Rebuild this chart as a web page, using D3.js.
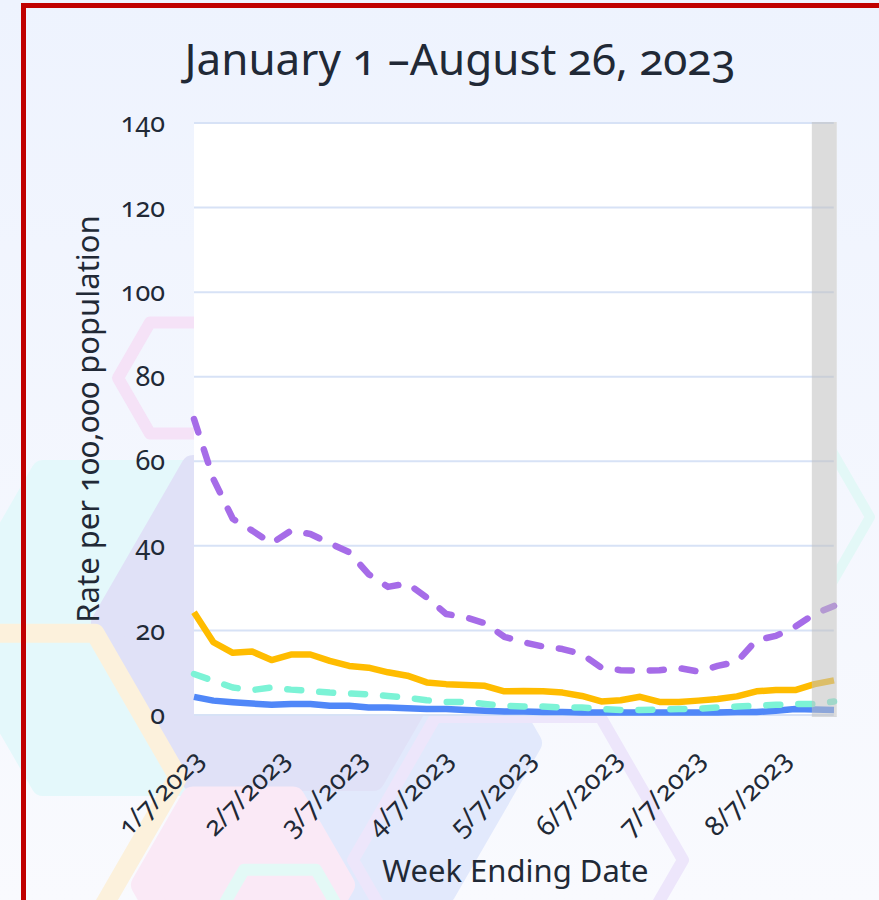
<!DOCTYPE html>
<html>
<head>
    <title>Rate per 100,000 population, January 1 - August 26, 2023</title>
    <style>
        body {
            margin: 0;
            padding: 0;
            background: #eef3fe;
            font-family: "Noto Sans", "Open Sans", sans-serif;
        }
        #chart svg {
            display: block;
        }
        svg text {
            font-variant-numeric: oldstyle-nums;
            font-feature-settings: "onum" 1;
        }
    </style>
</head>
<body>
    <div id="chart"></div>

    <script src="https://d3js.org/d3.v7.min.js"></script>
    <script>
        // week ending dates, 1/7/2023 .. 8/26/2023
        const weeks = [
            '1/7/2023', '1/14/2023', '1/21/2023', '1/28/2023', '2/4/2023', '2/11/2023', '2/18/2023',
            '2/25/2023', '3/4/2023', '3/11/2023', '3/18/2023', '3/25/2023', '4/1/2023', '4/8/2023',
            '4/15/2023', '4/22/2023', '4/29/2023', '5/6/2023', '5/13/2023', '5/20/2023', '5/27/2023',
            '6/3/2023', '6/10/2023', '6/17/2023', '6/24/2023', '7/1/2023', '7/8/2023', '7/15/2023',
            '7/22/2023', '7/29/2023', '8/5/2023', '8/12/2023', '8/19/2023', '8/26/2023'
        ];

        // rates per 100,000
        const purpleRates = [70.0, 55.8, 46.4, 43.6, 40.6, 43.6, 42.8, 40.6, 38.5, 33.3, 30.3, 31.1,
            27.8, 23.9, 23.1, 21.7, 18.5, 17.2, 16.2, 15.6, 14.4, 11.2, 10.6, 10.5, 10.6, 11.1, 10.3,
            11.6, 12.6, 17.7, 18.7, 20.9, 23.9, 25.8];
        const orangeRates = [24.3, 17.2, 14.7, 15.0, 13.0, 14.3, 14.3, 12.8, 11.6, 11.2, 10.1, 9.3,
            7.7, 7.3, 7.1, 6.9, 5.6, 5.7, 5.6, 5.3, 4.5, 3.2, 3.5, 4.3, 3.1, 3.1, 3.4, 3.8, 4.4, 5.6,
            5.9, 5.9, 7.3, 8.2];
        const tealRates = [9.7, 8.1, 6.5, 5.9, 6.5, 6.0, 5.7, 5.3, 5.1, 4.9, 4.5, 4.1, 3.5, 3.1, 3.1,
            2.6, 2.2, 2.0, 2.0, 1.8, 1.8, 1.4, 1.2, 1.2, 1.3, 1.4, 1.5, 1.8, 2.0, 2.2, 2.4, 2.6, 2.6, 3.2];
        const blueRates = [4.3, 3.4, 3.0, 2.7, 2.4, 2.6, 2.6, 2.2, 2.2, 1.8, 1.8, 1.6, 1.4, 1.4, 1.2,
            1.0, 0.8, 0.8, 0.7, 0.7, 0.6, 0.6, 0.6, 0.6, 0.6, 0.6, 0.6, 0.6, 0.7, 0.7, 1.0, 1.4, 1.3, 1.2];

        const yTicks = [0, 20, 40, 60, 80, 100, 120, 140];
        const xTickLabels = ['1/7/2023', '2/7/2023', '3/7/2023', '4/7/2023', '5/7/2023', '6/7/2023',
            '7/7/2023', '8/7/2023'];
        // shaded stretch at the end (incomplete weeks)
        const shadedRange = ['8/18/2023', '8/27/2023'];

        const titleText = 'January 1 –August 26, 2023';
        const yLabel = 'Rate per 100,000 population';
        const xLabel = 'Week Ending Date';

        const width = 879, height = 900;
        const margin = { top: 123, right: 45, bottom: 185, left: 194 };

        const parse = d3.timeParse('%m/%d/%Y');
        const dates = weeks.map(parse);

        const series = [
            { values: blueRates, color: '#5087f8', dash: null },
            { values: tealRates, color: '#7cf3d6', dash: '14,18' },
            { values: orangeRates, color: '#ffbc00', dash: null },
            { values: purpleRates, color: '#a66ce8', dash: '14,18' }
        ];

        const svg = d3.select('#chart').append('svg')
            .attr('width', width)
            .attr('height', height);

        // ---- background ----
        const defs = svg.append('defs');
        const grad = defs.append('linearGradient')
            .attr('id', 'bg').attr('x1', 0).attr('y1', 0).attr('x2', 0).attr('y2', 1);
        grad.append('stop').attr('offset', '0%').attr('stop-color', '#eef3fe');
        grad.append('stop').attr('offset', '100%').attr('stop-color', '#f9fafe');

        svg.append('rect')
            .attr('width', width).attr('height', height)
            .attr('fill', 'url(#bg)');

        // decorative rounded hexagons behind the plot
        const hexes = [
            { cx: 133, cy: 628, r: 180, fill: '#e4f8fb' },
            { cx: 358, cy: 743, r: 172, fill: '#e2e9fc' },
            { cx: 283, cy: 623, r: 180, fill: '#e0e1f7' },
            { cx: 243, cy: 885, r: 100, fill: '#fae9f6' },
            { cx: 182, cy: 378, r: 64, stroke: '#f5e2f7', sw: 12 },
            { cx: 12, cy: 777, r: 166, stroke: '#fcf1dc', sw: 19 },
            { cx: 280, cy: 932, r: 72, stroke: '#e3f9f6', sw: 12 },
            { cx: 518, cy: 860, r: 165, stroke: '#ede6fb', sw: 12 },
            { cx: 793, cy: 517, r: 77, stroke: '#e3f8f7', sw: 10 }
        ];
        const hexPath = h => {
            const pts = d3.range(6).map(k => {
                const a = Math.PI / 3 * k;
                return [h.cx + h.r * Math.cos(a), h.cy + h.r * Math.sin(a)];
            });
            return 'M' + pts.join('L') + 'Z';
        };
        svg.append('g').selectAll('path')
            .data(hexes)
            .enter().append('path')
            .attr('d', hexPath)
            .attr('fill', d => d.fill || 'none')
            .attr('stroke', d => d.stroke || d.fill)
            .attr('stroke-width', d => d.sw || 24)
            .attr('stroke-linejoin', 'round');

        // red frame
        svg.append('rect')
            .attr('x', 23.5).attr('y', 5.5)
            .attr('width', width).attr('height', height)
            .attr('fill', 'none')
            .attr('stroke', '#c00000')
            .attr('stroke-width', 5);

        // ---- scales ----
        const x = d3.scaleTime()
            .domain(d3.extent(dates))
            .range([margin.left, width - margin.right]);

        const y = d3.scaleLinear()
            .domain([0, 140])
            .range([height - margin.bottom, margin.top]);

        const plotRight = x(parse(shadedRange[1]));

        // plot background
        svg.append('rect')
            .attr('x', margin.left).attr('y', margin.top - 1)
            .attr('width', plotRight - margin.left)
            .attr('height', y(0) - margin.top + 2)
            .attr('fill', '#ffffff');

        // gridlines
        svg.append('g').selectAll('line')
            .data(yTicks)
            .enter().append('line')
            .attr('x1', margin.left).attr('x2', plotRight - 3)
            .attr('y1', d => y(d)).attr('y2', d => y(d))
            .attr('stroke', '#d7e2f6')
            .attr('stroke-width', 2);

        // lines
        const line = d3.line()
            .x((d, i) => x(dates[i]))
            .y(d => y(d));

        svg.append('g').selectAll('path')
            .data(series)
            .enter().append('path')
            .attr('d', d => line(d.values))
            .attr('fill', 'none')
            .attr('stroke', d => d.color)
            .attr('stroke-width', 6.5)
            .attr('stroke-linejoin', 'round')
            .attr('stroke-linecap', d => d.dash ? 'round' : 'butt')
            .attr('stroke-dasharray', d => d.dash);

        // shaded band
        svg.append('rect')
            .attr('x', x(parse(shadedRange[0])))
            .attr('y', margin.top - 1)
            .attr('width', plotRight - x(parse(shadedRange[0])))
            .attr('height', y(0) - margin.top + 3)
            .attr('fill', '#c0c0c0')
            .attr('opacity', 0.55);

        // ---- axes ----
        const yAxis = svg.append('g')
            .attr('transform', `translate(${margin.left},0)`)
            .call(d3.axisLeft(y).tickValues(yTicks).tickSize(0).tickPadding(29));
        yAxis.select('.domain').remove();
        yAxis.selectAll('text')
            .attr('font-family', '"Noto Sans", sans-serif')
            .attr('font-size', 27)
            .attr('fill', '#212936');

        const xAxis = svg.append('g')
            .attr('transform', `translate(0,${y(0)})`)
            .call(d3.axisBottom(x).tickValues(xTickLabels.map(parse)).tickSize(0)
                .tickFormat((d, i) => xTickLabels[i]));
        xAxis.select('.domain').remove();
        xAxis.selectAll('text')
            .attr('font-family', '"Noto Sans", sans-serif')
            .attr('font-size', 27)
            .attr('fill', '#212936')
            .attr('text-anchor', 'end')
            .attr('x', 0).attr('y', 0).attr('dy', null)
            .attr('transform', 'translate(11,46) rotate(-45)');

        // ---- titles ----
        svg.append('text')
            .attr('x', 460).attr('y', 75)
            .attr('text-anchor', 'middle')
            .attr('font-size', 44)
            .attr('fill', '#212936')
            .text(titleText);

        svg.append('text')
            .attr('transform', `translate(99,${(margin.top + y(0)) / 2}) rotate(-90)`)
            .attr('text-anchor', 'middle')
            .attr('font-size', 31)
            .attr('fill', '#212936')
            .text(yLabel);

        svg.append('text')
            .attr('x', (margin.left + plotRight) / 2).attr('y', 882)
            .attr('text-anchor', 'middle')
            .attr('font-size', 31)
            .attr('fill', '#212936')
            .text(xLabel);
    </script>
</body>
</html>
